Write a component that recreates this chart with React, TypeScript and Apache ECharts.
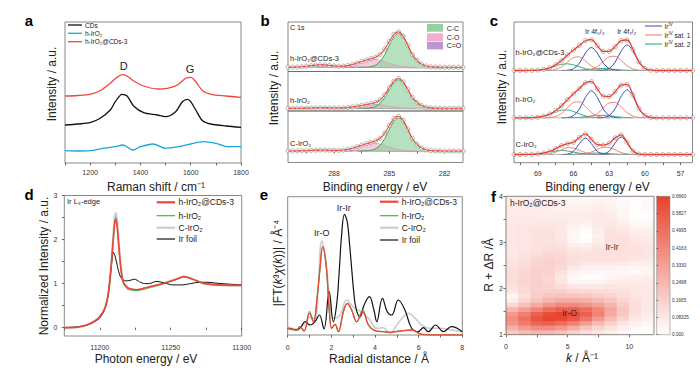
import React, { useEffect, useRef } from 'react';
import * as echarts from 'echarts';

const FONT = '"Liberation Sans", Arial, Helvetica, sans-serif';

// ---------------- a: Raman ----------------
const ramanNames = ['CDs', 'h-IrO₂', 'h-IrO₂@CDs-3'];
const ramanColors = ['#111111', '#1aa6d8', '#f2453a'];
const ramanCDs = [[1100, 38], [1150, 39], [1200, 40.3], [1240, 44.7], [1280, 53], [1300, 61.3], [1327, 68.7], [1347, 67], [1373, 57], [1413, 50.3], [1467, 48], [1500, 46.3], [1540, 51.3], [1567, 61.3], [1587, 63.7], [1600, 61.3], [1620, 53], [1647, 42.3], [1680, 39], [1740, 37], [1800, 35.7]];
const ramanHIrO2 = [[1100, 12.3], [1150, 12], [1200, 12.3], [1250, 14.7], [1300, 16.3], [1330, 18], [1370, 13], [1400, 16.3], [1450, 19], [1500, 14.7], [1550, 16.3], [1600, 19], [1650, 21.3], [1700, 19.7], [1750, 16.3], [1800, 16.3]];
const ramanHIrO2CDs = [[1100, 67], [1150, 67.5], [1200, 68.7], [1240, 72.3], [1280, 79.7], [1307, 85.7], [1327, 88.3], [1347, 87], [1373, 82], [1413, 77], [1467, 74], [1507, 74.7], [1547, 78], [1580, 84.7], [1600, 85.7], [1620, 81.3], [1647, 72.3], [1680, 68.7], [1740, 67], [1800, 65.7]];
const ramanXTicks = [1100, 1200, 1300, 1400, 1500, 1600, 1700, 1800];
const ramanXLabels = [1200, 1400, 1600, 1800];

// ---------------- b: C 1s XPS ----------------
const sampleNames = ['h-IrO₂@CDs-3', 'h-IrO₂', 'C-IrO₂'];
const bCompNames = ['C-C', 'C-O', 'C=O'];
const bE = [290.5, 290.25, 290, 289.75, 289.5, 289.25, 289, 288.75, 288.5, 288.25, 288, 287.75, 287.5, 287.25, 287, 286.75, 286.5, 286.25, 286, 285.75, 285.5, 285.25, 285, 284.75, 284.5, 284.25, 284, 283.75, 283.5, 283.25, 283, 282.75, 282.5, 282.25, 282, 281.75, 281.5, 281.25, 281];
const bFitTop = [0.03, 0.09, 0.24, 0.54, 1.03, 1.64, 2.2, 2.5, 2.38, 1.95, 1.43, 1.09, 1.16, 1.71, 2.77, 4.2, 5.84, 7.32, 8.64, 10.04, 12.84, 18.2, 25.9, 32.97, 35.4, 31.2, 22.3, 12.8, 7, 3.2, 1.3, 0.5, 0.2, 0.1, 0, 0, 0, 0, 0];
const bFitMid = [0, 0, 0.05, 0.1, 0.2, 0.33, 0.45, 0.5, 0.47, 0.38, 0.33, 0.33, 0.47, 0.83, 1.39, 2.1, 2.92, 3.7, 4.57, 5.82, 8.47, 13.55, 20.75, 27.24, 29.7, 26.36, 18.96, 10.8, 6, 2.7, 1.1, 0.4, 0.1, 0, 0, 0, 0, 0, 0];
const bFitBot = [0, 0.04, 0.1, 0.22, 0.41, 0.66, 0.88, 1.0, 0.96, 0.82, 0.67, 0.66, 0.96, 1.63, 2.77, 4.2, 5.84, 7.32, 8.64, 10.04, 12.74, 17.9, 25.5, 32.37, 34.7, 30.6, 21.9, 12.53, 6.9, 3.1, 1.3, 0.5, 0.2, 0.1, 0, 0, 0, 0, 0];
const bCCTop = [[286.75, 0], [286.5, 0.03], [286.25, 0.15], [286, 0.7], [285.75, 2.2], [285.5, 5.9], [285.25, 12.7], [285, 22], [284.75, 30.5], [284.5, 34], [284.25, 30.5], [284, 22], [283.75, 12.7], [283.5, 7], [283.25, 3.2], [283, 1.3], [282.75, 0.5], [282.5, 0.2], [282.25, 0]];
const bCOTop = [[289, 0], [288.5, 0.02], [288, 0.16], [287.75, 0.38], [287.5, 0.82], [287.25, 1.58], [287, 2.73], [286.75, 4.2], [286.5, 5.81], [286.25, 7.17], [286, 7.94], [285.75, 7.84], [285.5, 6.94], [285.25, 5.5], [285, 3.9], [284.75, 2.47], [284.5, 1.4], [284.25, 0.71], [284, 0.32], [283.75, 0.13], [283.5, 0]];
const bCdOTop = [[290.5, 0.03], [290.25, 0.09], [290, 0.24], [289.75, 0.54], [289.5, 1.03], [289.25, 1.64], [289, 2.2], [288.75, 2.49], [288.5, 2.36], [288.25, 1.89], [288, 1.27], [287.75, 0.71], [287.5, 0.34], [287.25, 0.13], [287, 0.04], [286.75, 0]];
const bCCMid = [[286.75, 0], [286.5, 0.03], [286.25, 0.1], [286, 0.6], [285.75, 1.9], [285.5, 5], [285.25, 10.8], [285, 18.8], [284.75, 26], [284.5, 29], [284.25, 26], [284, 18.8], [283.75, 10.8], [283.5, 6], [283.25, 2.7], [283, 1.1], [282.75, 0.4], [282.5, 0.1], [282.25, 0]];
const bCOMid = [[288.5, 0], [288, 0.08], [287.5, 0.4], [287.25, 0.8], [287, 1.37], [286.75, 2.1], [286.5, 2.9], [286.25, 3.6], [286, 3.97], [285.75, 3.92], [285.5, 3.47], [285.25, 2.75], [285, 1.95], [284.75, 1.24], [284.5, 0.7], [284.25, 0.36], [284, 0.16], [283.5, 0]];
const bCdOMid = [[290, 0.05], [289.5, 0.2], [289, 0.45], [288.75, 0.5], [288.5, 0.47], [288, 0.25], [287.5, 0.07], [287, 0]];
const bCCBot = [[286.75, 0], [286.5, 0.03], [286.25, 0.15], [286, 0.7], [285.75, 2.2], [285.5, 5.8], [285.25, 12.4], [285, 21.6], [284.75, 29.9], [284.5, 33.3], [284.25, 29.9], [284, 21.6], [283.75, 12.4], [283.5, 6.9], [283.25, 3.1], [283, 1.3], [282.75, 0.5], [282.5, 0.2], [282.25, 0]];
const bCOBot = [[289, 0], [288.5, 0.02], [288, 0.16], [287.75, 0.38], [287.5, 0.82], [287.25, 1.58], [287, 2.73], [286.75, 4.2], [286.5, 5.81], [286.25, 7.17], [286, 7.94], [285.75, 7.84], [285.5, 6.94], [285.25, 5.5], [285, 3.9], [284.75, 2.47], [284.5, 1.4], [284.25, 0.71], [284, 0.32], [283.75, 0.13], [283.5, 0]];
const bCdOBot = [[290.25, 0.04], [290, 0.1], [289.75, 0.22], [289.5, 0.41], [289.25, 0.66], [289, 0.88], [288.75, 1], [288.5, 0.94], [288.25, 0.76], [288, 0.51], [287.75, 0.28], [287.5, 0.14], [287.25, 0.05], [287, 0]];
const bBackground = [[290.5, 0.5], [281, -1]];
const bXTicks = [289.5, 288, 286.5, 285, 283.5, 282];
const bXLabels = [288, 285, 282];

// ---------------- c: Ir 4f XPS ----------------
const cCompNames = ['{n|Ir}{s|IV}', '{n|Ir}{s|IV}{n| sat. 1}', '{n|Ir}{s|IV}{n| sat. 2}'];
const cE = [71, 70.5, 70, 69.5, 69, 68.5, 68, 67.5, 67, 66.5, 66, 65.5, 65, 64.5, 64, 63.5, 63, 62.5, 62, 61.5, 61, 60.5, 60, 59.5, 59, 58.5, 58, 57.5, 57, 56.5, 56];
const cFitTop = [0, 0, 0.02, 0.1, 0.4, 1.1, 2.7, 5.6, 9.9, 15.5, 20.5, 25.1, 29.75, 30.8, 24.85, 19.1, 19.2, 23.9, 29.85, 30.5, 20.9, 8.6, 2.0, 0.3, 0, 0, 0, 0, 0, 0, 0];
const cFitMid = [0, 0, 0.05, 0.16, 0.57, 1.6, 3.74, 7.1, 12.05, 18.14, 24.04, 29.2, 34.97, 36.2, 29.0, 21.65, 21.26, 26.12, 32.69, 33.42, 22.9, 9.5, 2.2, 0.3, 0, 0, 0, 0, 0, 0, 0];
const cFitBot = [0, 0, 0.04, 0.18, 0.54, 1.5, 3.1, 5.8, 8.8, 10.77, 12.3, 17.14, 20.64, 15.33, 9.9, 9.4, 11.3, 16.64, 19.7, 12.27, 3.5, 0.4, 0, 0, 0, 0, 0, 0, 0, 0, 0];
const cB72Top = [[64, 0], [63.5, 0.3], [63, 2.0], [62.5, 8.3], [62, 19.3], [61.5, 25.5], [61, 19.3], [60.5, 8.3], [60, 2.0], [59.5, 0.3], [59, 0]];
const cB52Top = [[67, 0], [66.5, 0.3], [66, 1.8], [65.5, 7.5], [65, 17.4], [64.5, 23], [64, 17.4], [63.5, 7.5], [63, 1.8], [62.5, 0.3], [62, 0]];
const cR72Top = [[65.5, 0], [65, 0.2], [64.5, 1.2], [64, 3.9], [63.5, 8.9], [63, 13.7], [62.5, 14.2], [62, 10], [61.5, 4.8], [61, 1.5], [60.5, 0.3], [60, 0]];
const cR52Top = [[68.5, 0], [68, 0.2], [67.5, 1.1], [67, 3.7], [66.5, 8.5], [66, 13], [65.5, 13.6], [65, 9.5], [64.5, 4.6], [64, 1.5], [63.5, 0.3], [63, 0]];
const cG52Top = [[70, 0], [69.5, 0.1], [69, 0.4], [68.5, 1.1], [68, 2.5], [67.5, 4.5], [67, 6.2], [66.5, 6.67], [66, 5.6], [65.5, 3.7], [65, 1.9], [64.5, 0.7], [64, 0.2], [63.5, 0.1], [63, 0]];
const cG72Top = [[66.5, 0], [66, 0.1], [65.5, 0.33], [65, 0.75], [64.5, 1.33], [64, 1.85], [63.5, 2], [63, 1.67], [62.5, 1.1], [62, 0.55], [61.5, 0.22], [61, 0.07], [60.5, 0]];
const cB72Mid = [[64, 0], [63.5, 0.3], [63, 2.2], [62.5, 9.1], [62, 21.2], [61.5, 28], [61, 21.2], [60.5, 9.1], [60, 2.2], [59.5, 0.3], [59, 0]];
const cB52Mid = [[67, 0], [66.5, 0.3], [66, 2.2], [65.5, 8.8], [65, 20.4], [64.5, 27], [64, 20.4], [63.5, 8.8], [63, 2.2], [62.5, 0.3], [62, 0]];
const cR72Mid = [[65.5, 0], [65, 0.3], [64.5, 1.3], [64, 4.3], [63.5, 9.7], [63, 14.9], [62.5, 15.5], [62, 10.9], [61.5, 5.2], [61, 1.7], [60.5, 0.4], [60, 0]];
const cR52Mid = [[68.5, 0], [68, 0.3], [67.5, 1.3], [67, 4.4], [66.5, 10], [66, 15.4], [65.5, 16], [65, 11.3], [64.5, 5.4], [64, 1.7], [63.5, 0.4], [63, 0]];
const cG52Mid = [[70, 0.05], [69.5, 0.16], [69, 0.57], [68.5, 1.6], [68, 3.44], [67.5, 5.8], [67, 7.65], [66.5, 7.84], [66, 6.26], [65.5, 3.9], [65, 1.9], [64.5, 0.7], [64, 0.2], [63.5, 0]];
const cG72Mid = [[66.5, 0], [66, 0.18], [65.5, 0.5], [65, 1.07], [64.5, 1.8], [64, 2.4], [63.5, 2.45], [63, 1.96], [62.5, 1.22], [62, 0.59], [61.5, 0.22], [61, 0]];
const cB72Bot = [[64, 0], [63.5, 0.4], [63, 3.4], [62.5, 11.6], [62, 17.5], [61.5, 11.6], [61, 3.4], [60.5, 0.4], [60, 0]];
const cB52Bot = [[67, 0], [66.5, 0.4], [66, 3.2], [65.5, 10.9], [65, 16.5], [64.5, 10.9], [64, 3.2], [63.5, 0.4], [63, 0]];
const cR72Bot = [[66, 0], [65.5, 0.2], [65, 0.8], [64.5, 2.4], [64, 5.1], [63.5, 7.3], [63, 7], [62.5, 4.55], [62, 2], [61.5, 0.6], [61, 0.1], [60.5, 0]];
const cR52Bot = [[69, 0], [68.5, 0.2], [68, 0.7], [67.5, 2.3], [67, 4.8], [66.5, 6.8], [66, 6.5], [65.5, 4.25], [65, 1.9], [64.5, 0.55], [64, 0.1], [63.5, 0]];
const cG52Bot = [[70.5, 0], [70, 0.04], [69.5, 0.18], [69, 0.54], [68.5, 1.3], [68, 2.4], [67.5, 3.5], [67, 4], [66.5, 3.5], [66, 2.4], [65.5, 1.3], [65, 0.54], [64.5, 0.18], [64, 0]];
const cG72Bot = [[67, 0], [66.5, 0.07], [66, 0.2], [65.5, 0.49], [65, 0.9], [64.5, 1.3], [64, 1.5], [63.5, 1.3], [63, 0.9], [62.5, 0.49], [62, 0.2], [61.5, 0.07], [61, 0]];
const cXTicks = [70.5, 69, 67.5, 66, 64.5, 63, 61.5, 60, 58.5, 57];
const cXLabels = [69, 66, 63, 60, 57];

// ---------------- d: XANES ----------------
const xasNames = ['h-IrO₂@CDs-3', 'h-IrO₂', 'C-IrO₂', 'Ir foil'];
const xasColors = ['#f2453a', '#3db54a', '#cccccc', '#111111'];
const dRed = [[11175, 0], [11184, 0.01], [11191, 0.06], [11196.5, 0.15], [11200, 0.25], [11203.6, 0.44], [11205.9, 0.74], [11207.5, 1.2], [11209.4, 1.95], [11210.5, 2.37], [11211.3, 2.45], [11212.2, 2.3], [11213.6, 1.77], [11215, 1.31], [11216.4, 1.05], [11218.3, 0.95], [11220, 0.9], [11225.8, 0.86], [11235, 0.93], [11244.4, 1.0], [11253.8, 1.1], [11259.2, 1.16], [11265.5, 1.1], [11272.5, 1.01], [11282, 0.97], [11300, 0.96]];
const dGreen = [[11175, 0], [11184, 0.01], [11191, 0.06], [11196.5, 0.15], [11200, 0.25], [11203.6, 0.44], [11205.9, 0.74], [11207.5, 1.2], [11209.4, 1.97], [11210.5, 2.42], [11211.3, 2.5], [11212.2, 2.34], [11213.6, 1.78], [11215, 1.3], [11216.4, 1.03], [11218.3, 0.92], [11220, 0.87], [11225.8, 0.84], [11235, 0.91], [11244.4, 0.99], [11253.8, 1.09], [11259.2, 1.15], [11265.5, 1.1], [11272.5, 1.01], [11282, 0.97], [11300, 0.96]];
const dGray = [[11175, 0], [11184, 0.01], [11191, 0.06], [11196.5, 0.15], [11200, 0.25], [11203.6, 0.44], [11205.9, 0.75], [11207.5, 1.22], [11209.4, 2.02], [11210.5, 2.5], [11211.3, 2.6], [11212.2, 2.42], [11213.6, 1.84], [11215, 1.34], [11216.4, 1.05], [11218.3, 0.93], [11220, 0.88], [11225.8, 0.85], [11235, 0.92], [11244.4, 1.0], [11253.8, 1.1], [11259.2, 1.16], [11265.5, 1.1], [11272.5, 1.01], [11282, 0.97], [11300, 0.96]];
const dBlack = [[11175, 0], [11185, 0.02], [11192, 0.07], [11197, 0.15], [11200, 0.22], [11203, 0.38], [11205, 0.6], [11206.5, 0.9], [11208, 1.35], [11209.6, 1.71], [11211, 1.6], [11212.5, 1.38], [11214, 1.2], [11216, 1.09], [11219, 1.06], [11222, 1.08], [11224.6, 1.1], [11228, 1.04], [11231.6, 1.0], [11235, 1.0], [11239.8, 1.05], [11245, 1.02], [11251.4, 0.97], [11258, 0.97], [11264, 1.0], [11270, 1.03], [11276, 1.03], [11282, 1.01], [11290, 0.99], [11300, 0.97]];
const dXTicks = [11175, 11200, 11225, 11250, 11275, 11300];
const dXLabels = [11200, 11250, 11300];
const dYTicks = [0, 0.5, 1, 1.5, 2, 2.5, 3];
const dYLabels = [0, 1, 2, 3];

// ---------------- e: EXAFS FT ----------------
const eRed = [[0, 6.7], [0.41, 5], [0.56, 8.3], [0.75, 4], [1.0, 21.7], [1.18, 13.3], [1.36, 40], [1.48, 66.7], [1.6, 88.3], [1.76, 70], [1.91, 23.3], [2.02, 6.7], [2.17, 10.7], [2.32, 3.3], [2.55, 23.3], [2.73, 31.7], [2.93, 25], [3.16, 13.3], [3.44, 23.3], [3.7, 10], [4.0, 4.3], [4.38, 3.3], [4.69, 2.7], [5.15, 4], [5.68, 5], [6.14, 0.7], [6.82, 0], [8, 0]];
const eGreen = [[0, 6.7], [0.41, 5], [0.56, 8.3], [0.75, 4], [1.0, 23.5], [1.18, 13.3], [1.36, 40], [1.48, 66], [1.6, 87.5], [1.76, 69.5], [1.91, 23], [2.02, 6.7], [2.17, 10.7], [2.32, 3.3], [2.55, 23.3], [2.73, 31.3], [2.93, 25], [3.16, 13], [3.44, 25], [3.7, 10], [4.0, 4.3], [4.38, 3.3], [4.69, 2.7], [5.15, 4], [5.68, 5], [6.14, 0.7], [6.82, 0], [8, 0]];
const eGray = [[0, 8.3], [0.41, 6], [0.6, 8], [0.8, 12], [1.02, 18], [1.25, 16], [1.4, 50], [1.56, 94], [1.76, 73], [1.94, 30], [2.09, 16.7], [2.4, 20], [2.7, 35], [3.0, 28], [3.24, 25], [3.47, 21.7], [3.77, 15], [4.08, 6.7], [4.38, 7.3], [4.69, 1.7], [5.0, 10], [5.3, 18.3], [5.53, 21.7], [5.84, 16.7], [6.14, 10], [6.52, 6.7], [6.98, 6.7], [7.5, 5], [8, 3.3]];
const eBlack = [[0, 6.7], [0.2, 6], [0.41, 5], [0.6, 8], [0.8, 13.3], [1.02, 10], [1.25, 13.3], [1.45, 20], [1.66, 6], [1.9, 43.3], [2.09, 13.3], [2.24, 30], [2.35, 60], [2.47, 100], [2.6, 120.7], [2.73, 113], [2.83, 92], [2.93, 66.7], [3.03, 42], [3.13, 26.7], [3.31, 18], [3.5, 30], [3.74, 38.3], [3.95, 25], [4.08, 13.3], [4.34, 36.7], [4.56, 23.3], [4.76, 20], [5.07, 35], [5.37, 25], [5.68, 6.7], [5.98, 3.3], [6.21, 7.3], [6.44, 3.3], [6.78, 10], [7.13, 3.3], [7.51, 8.3], [8, 3.3]];
const eXTicks = [0, 1, 2, 3, 4, 5, 6, 7, 8];
const eXLabels = [0, 2, 4, 6, 8];

// ---------------- f: wavelet transform ----------------
const fK = ['0.5', '1.5', '2.5', '3.5', '4.5', '5.5', '6.5', '7.5', '8.5', '9.5', '10.5', '11.5'];
const fR = ['1.05', '1.15', '1.25', '1.35', '1.45', '1.55', '1.65', '1.75', '1.85', '1.95', '2.05', '2.15', '2.25', '2.35', '2.45', '2.55', '2.65', '2.75', '2.85', '2.95', '3.05', '3.15', '3.25', '3.35', '3.45', '3.55', '3.65', '3.75', '3.85', '3.95'];
// intensities in units of 0.01, rows from R = 1.05 (bottom) to 3.95 (top)
const fRows = [
  [19, 23, 26, 25, 22, 17, 12, 9, 6, 3, 1, 1],
  [28, 35, 40, 40, 36, 29, 21, 15, 10, 5, 2, 1],
  [37, 46, 54, 56, 52, 44, 34, 24, 16, 9, 5, 3],
  [40, 50, 60, 65, 64, 58, 48, 36, 24, 15, 8, 5],
  [36, 45, 55, 62, 66, 64, 56, 44, 30, 19, 11, 7],
  [26, 34, 43, 51, 56, 56, 51, 42, 31, 20, 12, 8],
  [14, 22, 30, 37, 41, 41, 38, 33, 26, 18, 11, 8],
  [5, 14, 21, 26, 29, 29, 27, 24, 20, 15, 10, 8],
  [4, 11, 17, 20, 21, 20, 19, 17, 15, 12, 9, 8],
  [9, 13, 16, 17, 16, 14, 13, 12, 12, 10, 9, 8],
  [11, 14, 16, 15, 12, 9, 8, 8, 9, 9, 8, 8],
  [12, 15, 16, 14, 9, 4, 3, 4, 6, 7, 7, 7],
  [12, 15, 16, 14, 8, 2, 1, 1, 3, 5, 5, 6],
  [12, 14, 16, 15, 10, 4, 2, 2, 3, 3, 2, 4],
  [11, 13, 16, 16, 13, 8, 5, 5, 5, 4, 3, 4],
  [10, 12, 15, 16, 14, 11, 8, 8, 8, 7, 6, 6],
  [9, 11, 14, 15, 14, 12, 10, 10, 10, 10, 9, 8],
  [8, 10, 12, 14, 13, 11, 10, 11, 11, 11, 10, 9],
  [8, 9, 11, 12, 12, 9, 8, 10, 11, 11, 10, 9],
  [8, 9, 10, 11, 10, 6, 5, 8, 11, 11, 10, 9],
  [8, 9, 10, 10, 9, 3, 1, 6, 10, 11, 9, 8],
  [8, 9, 10, 10, 8, 2, 0, 5, 10, 10, 8, 7],
  [8, 9, 10, 10, 8, 3, 1, 6, 10, 9, 6, 6],
  [8, 9, 9, 9, 8, 5, 3, 7, 9, 7, 4, 4],
  [8, 8, 8, 8, 8, 6, 5, 8, 8, 5, 2, 2],
  [8, 8, 7, 7, 7, 6, 6, 8, 7, 4, 1, 1],
  [7, 7, 7, 6, 6, 6, 6, 7, 6, 3, 1, 1],
  [7, 7, 6, 6, 5, 5, 5, 6, 5, 3, 1, 2],
  [6, 6, 6, 5, 4, 4, 4, 5, 4, 2, 1, 2],
  [6, 6, 5, 5, 4, 3, 3, 4, 4, 2, 1, 2],
];
const fXTicks = [0, 2.5, 5, 7.5, 10];
const fXLabels = [0, 5, 10];
const fYTicks = [1, 1.5, 2, 2.5, 3, 3.5, 4];
const fYLabels = [1, 2, 3, 4];
const cbTicks = [0, 0.08325, 0.1665, 0.2498, 0.333, 0.4163, 0.4995, 0.5827, 0.666];
const cbLabels = ['0.000', '0.08325', '0.1665', '0.2498', '0.3330', '0.4163', '0.4995', '0.5827', '0.6660'];

// ---------------- helpers ----------------
const frame = { show: true, borderColor: '#6a6a6a', borderWidth: 0.8, backgroundColor: 'transparent' };
const plain = (v: number) => String(v);

function vAxis(gi: number, min: number, max: number, o: any = {}) {
  return {
    type: 'value', gridIndex: gi, min, max, inverse: !!o.inverse, position: o.position,
    axisLine: { show: false }, splitLine: { show: false },
    axisTick: o.ticks ? { show: true, inside: false, length: o.tickLen ?? 2.5, customValues: o.ticks, lineStyle: { color: '#444', width: 0.8 } } : { show: false },
    axisLabel: o.labels ? { show: true, customValues: o.labels, fontSize: o.fs ?? 7, color: '#333', fontFamily: FONT, margin: o.margin ?? 6, formatter: o.formatter ?? plain } : { show: false },
  };
}

function line(ai: number, data: any[], color: string, width: number, extra: any = {}) {
  return { type: 'line', xAxisIndex: ai, yAxisIndex: ai, data, showSymbol: false, symbol: 'none', smooth: 0.35, lineStyle: { color, width }, silent: true, z: 3, ...extra };
}

function circles(ai: number, data: any[]) {
  return { type: 'scatter', xAxisIndex: ai, yAxisIndex: ai, data, symbol: 'circle', symbolSize: 4.2, silent: true, z: 4, itemStyle: { color: '#ffffff', borderColor: '#7a7a7a', borderWidth: 0.7 } };
}

const graphics: any[] = [];
function T(x: number, y: number, text: string, o: any = {}) {
  const size = o.size ?? 7;
  const color = o.color ?? '#222';
  const align = o.align ?? 'left';
  const valign = 'middle';
  graphics.push({
    type: 'text', x, y, rotation: o.rot ?? 0, z: 100, silent: true,
    style: {
      text, fontSize: size, fontFamily: FONT, fontWeight: o.weight ?? 'normal', fill: color,
      align, verticalAlign: valign, textAlign: align, textVerticalAlign: valign,
      rich: o.rich,
    },
  });
}
function L(x1: number, y1: number, x2: number, y2: number, color: string, w: number) {
  graphics.push({ type: 'line', z: 100, silent: true, shape: { x1, y1, x2, y2 }, style: { stroke: color, lineWidth: w } });
}
function R(x: number, y: number, w: number, h: number, fill: string, stroke = 'none') {
  graphics.push({ type: 'rect', z: 100, silent: true, shape: { x, y, width: w, height: h }, style: { fill, stroke, lineWidth: 0.8 } });
}

// ---------------- build option ----------------
const grids = [
  { left: 65, top: 22, width: 176, height: 141, ...frame },          // 0 a
  { left: 288, top: 22, width: 175, height: 49.5, ...frame },        // 1 b top
  { left: 288, top: 71.5, width: 175, height: 39.5, ...frame },      // 2 b mid
  { left: 288, top: 111, width: 175, height: 51.5, ...frame },       // 3 b bottom
  { left: 514, top: 22, width: 178.5, height: 140.7, ...frame },     // 4 c
  { left: 64.3, top: 195.5, width: 177.4, height: 140.5, ...frame }, // 5 d
  { left: 287.7, top: 196.7, width: 174.6, height: 138.3, ...frame },// 6 e
  { left: 506, top: 196.3, width: 148, height: 138.4, show: false }, // 7 f heat
  { left: 506, top: 196.3, width: 148, height: 138.4, show: false }, // 8 f axes
  {
    left: 656.7, top: 196.3, width: 13.3, height: 138.4, show: true, borderColor: '#8a8a8a', borderWidth: 0.6,
    backgroundColor: new echarts.graphic.LinearGradient(0, 0, 0, 1, [{ offset: 0, color: '#e8412c' }, { offset: 1, color: '#ffffff' }]),
  }, // 9 colorbar
];

const xAxes = [
  vAxis(0, 1100, 1800, { ticks: ramanXTicks, labels: ramanXLabels, margin: 6 }),
  vAxis(1, 281, 290.5, { inverse: true }),
  vAxis(2, 281, 290.5, { inverse: true }),
  vAxis(3, 281, 290.5, { inverse: true, ticks: bXTicks, labels: bXLabels, margin: 7.5 }),
  vAxis(4, 56, 71, { inverse: true, ticks: cXTicks, labels: cXLabels, margin: 7 }),
  vAxis(5, 11175, 11300, { ticks: dXTicks, labels: dXLabels, margin: 8 }),
  vAxis(6, 0, 8, { ticks: eXTicks, labels: eXLabels, margin: 9 }),
  { type: 'category', gridIndex: 7, data: fK, show: false },
  vAxis(8, 0, 12, { ticks: fXTicks, labels: fXLabels, margin: 8 }),
  vAxis(9, 0, 1),
];
const yAxes = [
  vAxis(0, 0, 141),
  vAxis(1, -4.2, 45.3),
  vAxis(2, -2.7, 36.8),
  vAxis(3, -11.5, 40),
  vAxis(4, 0, 140.7),
  vAxis(5, -0.19, 3, { ticks: dYTicks, labels: dYLabels, margin: 7 }),
  vAxis(6, 0, 138.3),
  { type: 'category', gridIndex: 7, data: fR, show: false },
  vAxis(8, 1, 4, { ticks: fYTicks, labels: fYLabels, margin: 3 }),
  vAxis(9, 0, 0.666, {
    position: 'right', ticks: cbTicks, labels: cbTicks, fs: 4.7, margin: 2, tickLen: 1.5,
    formatter: (v: number) => { const i = cbTicks.findIndex((t) => Math.abs(t - v) < 1e-6); return i >= 0 ? cbLabels[i] : ''; },
  }),
];

const series: any[] = [];

// a
[ramanCDs, ramanHIrO2, ramanHIrO2CDs].forEach((d, i) => series.push(line(0, d, ramanColors[i], 1.3, { smooth: 0.3 })));

// b
const bPanels = [
  { fit: bFitTop, cc: bCCTop, co: bCOTop, cdo: bCdOTop },
  { fit: bFitMid, cc: bCCMid, co: bCOMid, cdo: bCdOMid },
  { fit: bFitBot, cc: bCCBot, co: bCOBot, cdo: bCdOBot },
];
bPanels.forEach((p, i) => {
  const ai = 1 + i;
  series.push(line(ai, p.co, '#e58ab0', 0.6, { areaStyle: { color: 'rgba(246,168,203,0.9)' }, z: 2 }));
  series.push(line(ai, p.cdo, '#9a6fb5', 0.6, { areaStyle: { color: 'rgba(183,145,205,0.9)' }, z: 2 }));
  series.push(line(ai, p.cc, '#2aa14c', 0.9, { areaStyle: { color: 'rgba(140,208,155,0.9)' }, z: 2 }));
  series.push(line(ai, bBackground, '#8a8a8a', 0.7, { smooth: false }));
  const pts = bE.map((e, j) => [e, p.fit[j]]);
  series.push(circles(ai, pts));
  series.push(line(ai, pts, '#f04e3b', 1.1, { z: 5 }));
});

// c
const cOffsets = [92.2, 44.9, 8.2];
const cPanels = [
  { fit: cFitTop, b: [cB72Top, cB52Top], r: [cR72Top, cR52Top], g: [cG72Top, cG52Top] },
  { fit: cFitMid, b: [cB72Mid, cB52Mid], r: [cR72Mid, cR52Mid], g: [cG72Mid, cG52Mid] },
  { fit: cFitBot, b: [cB72Bot, cB52Bot], r: [cR72Bot, cR52Bot], g: [cG72Bot, cG52Bot] },
];
const shift = (d: number[][], off: number) => d.map(([x, y]) => [x, y + off]);
cPanels.forEach((p, i) => {
  const off = cOffsets[i];
  p.g.forEach((d) => series.push(line(4, shift(d, off), '#1fa37a', 0.9)));
  p.r.forEach((d) => series.push(line(4, shift(d, off), '#f47468', 0.9)));
  p.b.forEach((d) => series.push(line(4, shift(d, off), '#3b4ca8', 1.0)));
  series.push(line(4, [[71, off], [56, off]], '#9a9a9a', 0.7, { smooth: false }));
  const pts = cE.map((e, j) => [e, p.fit[j] + off]);
  series.push(circles(4, pts));
  series.push(line(4, pts, '#ef3e2e', 1.3, { z: 5 }));
});

// d
series.push(line(5, dGray, xasColors[2], 2.2, { smooth: 0.3 }));
series.push(line(5, dBlack, xasColors[3], 1.0, { smooth: 0.3 }));
series.push(line(5, dGreen, xasColors[1], 1.0, { smooth: 0.3 }));
series.push(line(5, dRed, xasColors[0], 1.6, { smooth: 0.3 }));

// e
series.push(line(6, eGray, xasColors[2], 1.6, { smooth: 0.4 }));
series.push(line(6, eBlack, xasColors[3], 1.2, { smooth: 0.4 }));
series.push(line(6, eGreen, xasColors[1], 1.2, { smooth: 0.4 }));
series.push(line(6, eRed, xasColors[0], 1.3, { smooth: 0.4 }));

// f
const heatData: any[] = [];
fRows.forEach((row, r) => row.forEach((v, c) => heatData.push([c, r, v / 100])));
const heatIndex = series.length;
series.push({ type: 'heatmap', xAxisIndex: 7, yAxisIndex: 7, data: heatData, silent: true, itemStyle: { borderWidth: 0 }, emphasis: { disabled: true } });
R(506, 196.3, 148, 138.4, 'none', '#6a6a6a');

// ---------------- texts ----------------
const axT = { size: 12, align: 'center' };
// panel letters
T(29, 20, 'a', { size: 15, weight: 'bold', align: 'center', color: '#000' });
T(265, 20, 'b', { size: 15, weight: 'bold', align: 'center', color: '#000' });
T(494, 20, 'c', { size: 15, weight: 'bold', align: 'center', color: '#000' });
T(29, 194, 'd', { size: 15, weight: 'bold', align: 'center', color: '#000' });
T(264, 194, 'e', { size: 15, weight: 'bold', align: 'center', color: '#000' });
T(493.5, 196, 'f', { size: 15, weight: 'bold', align: 'center', color: '#000' });

// axis titles
T(156, 187, 'Raman shift / cm⁻¹', axT);
T(375, 187, 'Binding energy / eV', axT);
T(597.5, 187, 'Binding energy / eV', axT);
T(146, 359, 'Photon energy / eV', axT);
T(379, 359, 'Radial distance / Å', axT);
const ital = {
  n: { fontSize: 12, fontFamily: FONT, fill: '#222', color: '#222' },
  i: { fontSize: 12, fontFamily: FONT, fontStyle: 'italic', fill: '#222', color: '#222' },
};
T(582, 358, '{i|k}{n| / Å⁻¹}', { ...axT, rich: ital });
T(52, 84, 'Intensity / a.u.', { ...axT, rot: Math.PI / 2 });
T(274, 88, 'Intensity / a.u.', { ...axT, rot: Math.PI / 2 });
T(502, 87, 'Intensity / a.u.', { ...axT, rot: Math.PI / 2 });
T(44, 266, 'Normalized Intensity / a.u.', { ...axT, rot: Math.PI / 2 });
T(277.5, 263, '{n||FT(}{i|k}{n|³}{i|χ}{n|(}{i|k}{n|))| / Å⁻⁴}', { ...axT, rot: Math.PI / 2, rich: ital });
T(489, 265, 'R + ΔR /Å', { ...axT, rot: Math.PI / 2 });

// a legend + labels
[25, 33.3, 41.7].forEach((y, i) => { L(68, y, 82, y, ramanColors[i], 1.3); T(85, y, ramanNames[i], { size: 6.5 }); });
T(123.8, 65.8, 'D', { size: 11, align: 'center' });
T(190, 68.5, 'G', { size: 11, align: 'center' });

// b legend + labels
const bFills = ['rgba(140,208,155,0.95)', 'rgba(246,168,203,0.95)', 'rgba(183,145,205,0.95)'];
[[24, 28], [33.3, 37.2], [41.7, 45.5]].forEach(([ry, ty], i) => { R(427, ry, 16, 7.7, bFills[i]); T(446.7, ty, bCompNames[i], { size: 7 }); });
T(290, 27.3, 'C 1s', { size: 7 });
[58, 100.5, 143].forEach((y, i) => T(290, y, sampleNames[i], { size: 7.5 }));

// c legend + labels
const cLegColors = ['#3b4ca8', '#f47468', '#1fa37a'];
const supRich = { n: { fontSize: 6.5, fontFamily: FONT, fill: '#222' }, s: { fontSize: 4.5, fontFamily: FONT, fill: '#222', verticalAlign: 'top', lineHeight: 8 } };
[26, 35, 44].forEach((y, i) => { L(645, y, 662, y, cLegColors[i], 1.0); T(664.5, y, cCompNames[i], { size: 6.5, rich: supRich }); });
T(594.7, 31.7, 'Ir 4f₅/₂', { size: 7, align: 'center' });
T(626.7, 31.7, 'Ir 4f₇/₂', { size: 7, align: 'center' });
[52.7, 99, 144].forEach((y, i) => T(515.5, y, sampleNames[i], { size: 7.5 }));

// d legend
const xasW = [2.2, 1.2, 2.2, 1.2];
[202.3, 215.7, 227.7, 239].forEach((y, i) => { L(156.7, y, 175, y, xasColors[i], xasW[i]); T(178.5, y, xasNames[i], { size: 8.5 }); });
T(67, 201.7, 'Ir L₃-edge', { size: 7.5 });

// e legend + labels
[201.7, 215.7, 227.7, 240].forEach((y, i) => { L(380, y, 398.3, y, xasColors[i], xasW[i]); T(401.7, y, xasNames[i], { size: 8.5 }); });
T(321.7, 233, 'Ir-O', { size: 9, align: 'center' });
T(343.8, 207.5, 'Ir-Ir', { size: 9, align: 'center' });

// f labels
T(510, 203, 'h-IrO₂@CDs-3', { size: 8.5 });
T(612, 246.7, 'Ir-Ir', { size: 8.5, align: 'center', color: '#333' });
T(569.5, 313, 'Ir-O', { size: 8.5, align: 'center', color: '#333' });

const option: any = {
  animation: false,
  backgroundColor: '#ffffff',
  textStyle: { fontFamily: FONT },
  grid: grids,
  xAxis: xAxes,
  yAxis: yAxes,
  visualMap: [{ type: 'continuous', min: 0, max: 0.666, show: false, seriesIndex: heatIndex, inRange: { color: ['#ffffff', '#e8412c'] } }],
  series,
  graphic: graphics,
};

export default function App() {
  const ref = useRef<HTMLDivElement>(null);
  useEffect(() => {
    document.body.style.margin = '0';
    const chart = echarts.init(ref.current as HTMLDivElement, null, { renderer: 'svg' });
    chart.setOption(option);
    return () => chart.dispose();
  }, []);
  return <div ref={ref} style={{ position: 'absolute', left: 0, top: 0, width: 700, height: 377 }} />;
}
